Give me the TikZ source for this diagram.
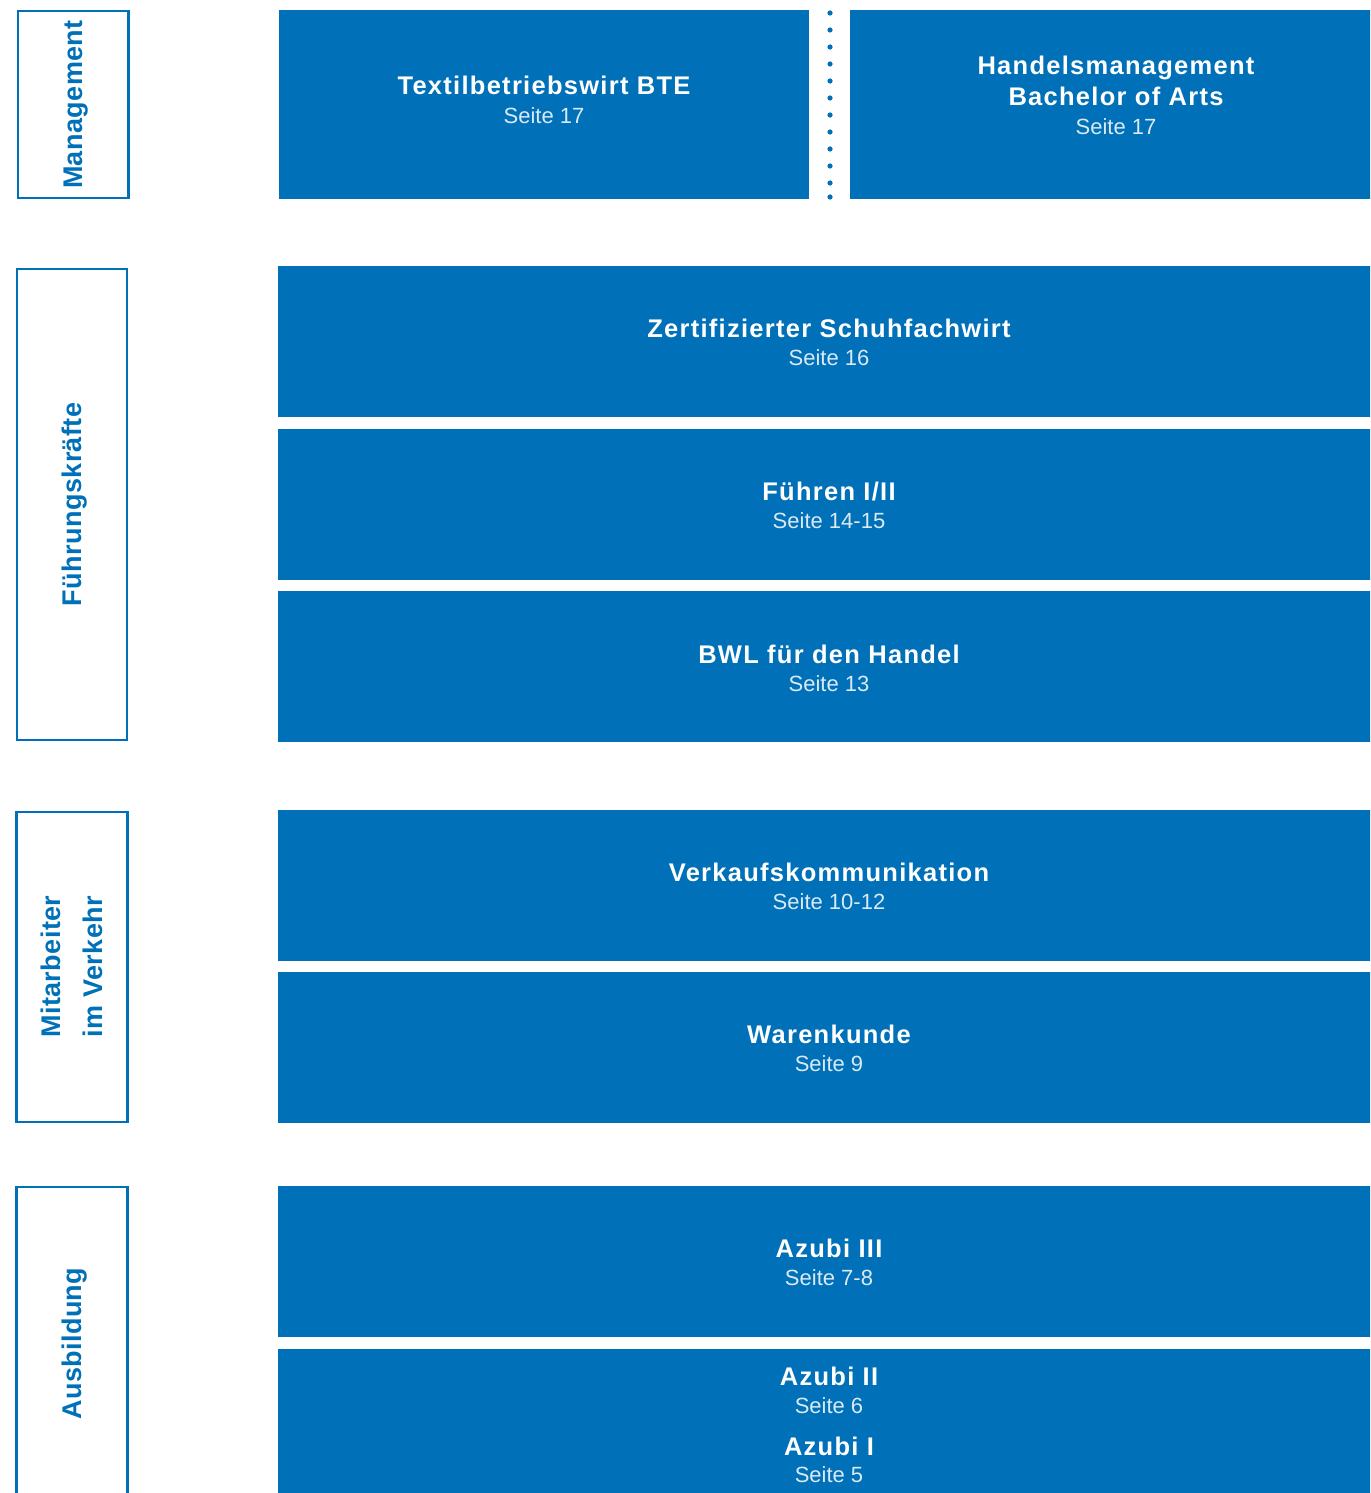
\documentclass[tikz,border=0pt]{standalone}
\usepackage{fontspec}
\setmainfont{Liberation Sans}
\newfontfamily\titlef[LetterSpace=5]{Liberation Sans}
\newfontfamily\labelf[LetterSpace=1.5]{Liberation Sans}
\definecolor{myblue}{RGB}{0,112,184}
\colorlet{seitecol}{white!85!myblue}
\newcommand{\ttl}[1]{{\titlef\bfseries\fontsize{25.5}{28}\selectfont #1}}
\newcommand{\seite}[1]{{\color{seitecol}\fontsize{22}{28}\selectfont #1}}
\begin{document}
\begin{tikzpicture}[x=1pt,y=-1pt,
  blk/.style={fill=myblue, draw=none, text=white, align=center, inner sep=0pt, outer sep=0pt,
    font={\fontsize{22}{28}\selectfont}, text height=53pt, text depth=5pt},
  wide/.style={blk, minimum width=1103, minimum height=151},
  lbl/.style={draw=myblue, line width=2.3pt, fill=white, text=myblue, align=center, inner sep=0pt,
    rotate=90, font={\labelf\bfseries\fontsize{27}{42}\selectfont},
    text height=19.3pt, text depth=0pt},
  dotmark/.style={fill=myblue}]
\useasboundingbox (0,0) rectangle (1370,1493);
\clip (0,0) rectangle (1370,1493);
\fill[white] (0,0) rectangle (1370,1493);

% category labels
\node[lbl, minimum width=186.7, minimum height=110.5] (lmgmt) at (73.2,104.6) {Management};
\node[lbl, minimum width=471, minimum height=110] (lfuehr) at (72,504.5) {Führungskräfte};
\node[lbl, minimum width=310, minimum height=111, text height=61.3pt] (lmitarb) at (72,966.7) {Mitarbeiter\\im Verkehr};
\node[lbl, minimum width=313, minimum height=111] (lausb) at (72,1343.7) {Ausbildung};

% management row
\node[blk, minimum width=530, minimum height=189, text height=42.8pt] (textil) at (544,104.6)
  {\ttl{Textilbetriebswirt BTE}\\[1pt]\seite{Seite 17}};
\node[blk, minimum width=532, minimum height=189, text height=64.8pt] (handel) at (1116,104.6)
  {\ttl{Handelsmanagement}\\[3pt]\ttl{Bachelor of Arts}\\[1pt]\seite{Seite 17}};
\foreach \yy in {13,30,47,64,81,98,115,132,149,166,183,197}
  \fill[dotmark] (830,\yy) circle (2.6);

% Führungskräfte
\node[wide] (zert) at (829,341.5)
  {\ttl{Zertifizierter Schuhfachwirt}\\\seite{Seite 16}};
\node[wide] (fuehren) at (829,504.5)
  {\ttl{Führen I/II}\\\seite{Seite 14-15}};
\node[wide, text height=55pt] (bwl) at (829,666.5)
  {\ttl{BWL für den Handel}\\\seite{Seite 13}};

% Mitarbeiter
\node[wide] (verkauf) at (829,885.5)
  {\ttl{Verkaufskommunikation}\\\seite{Seite 10-12}};
\node[wide] (waren) at (829,1047.5)
  {\ttl{Warenkunde}\\\seite{Seite 9}};

% Ausbildung
\node[wide] (azubi3) at (829,1261.5)
  {\ttl{Azubi III}\\\seite{Seite 7-8}};
\node[wide, text height=121pt] (azubi12) at (829,1424.5)
  {\ttl{Azubi II}\\\seite{Seite 6}\\[14pt]\ttl{Azubi I}\\[-1pt]\seite{Seite 5}};
\end{tikzpicture}
\end{document}
